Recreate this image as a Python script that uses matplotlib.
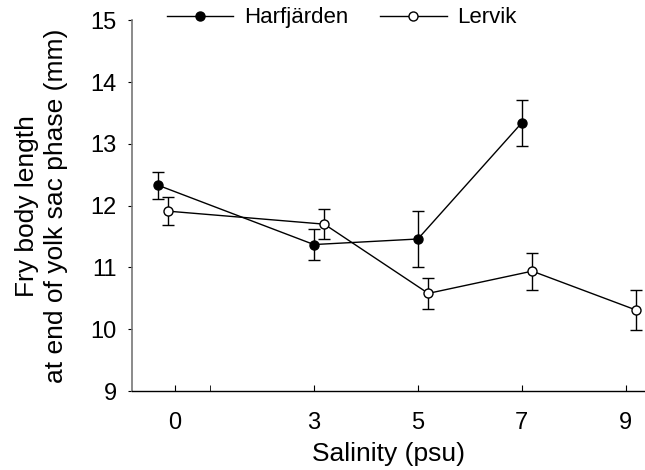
import matplotlib
matplotlib.use('Agg')
import matplotlib.pyplot as plt
from matplotlib.lines import Line2D

plt.rcParams['font.family'] = ['Liberation Sans', 'DejaVu Sans']

# salinity levels (psu); Lervik drawn slightly shifted right
sal_h = [0, 3, 5, 7]
sal_l = [0.2, 3.2, 5.2, 7.2, 9.2]

harf = [12.33, 11.37, 11.46, 13.34]
harf_err = [0.22, 0.25, 0.46, 0.37]
lerv = [11.91, 11.70, 10.58, 10.94, 10.31]
lerv_err = [0.23, 0.24, 0.25, 0.30, 0.33]

xtick_pos = [0.33, 3, 5, 7, 9]
xtick_lab = ['0', '3', '5', '7', '9']

fig = plt.figure(figsize=(6.45, 4.7), dpi=100)
ax = fig.add_axes([0.2047, 0.168, 0.7953, 0.789])

ax.errorbar(sal_h, harf, yerr=harf_err, color='black', lw=1, marker='o',
            ms=6.5, mfc='black', mec='black', capsize=4, elinewidth=1,
            capthick=1, zorder=3)
ax.errorbar(sal_l, lerv, yerr=lerv_err, color='black', lw=1, marker='o',
            ms=6.5, mfc='white', mec='black', capsize=4, elinewidth=1,
            capthick=1, zorder=3)

ax.set_xlim(-0.5, 9.37)
ax.set_ylim(9, 15)
ax.set_yticks(range(9, 16))
ax.set_xticks(xtick_pos)
ax.set_xticklabels(xtick_lab)
ax.set_xticks([1], minor=True)

for s in ['top', 'right']:
    ax.spines[s].set_visible(False)
ax.spines['left'].set_color('#777777')
ax.spines['left'].set_linewidth(1.2)
ax.spines['bottom'].set_linewidth(1)

ax.tick_params(axis='y', direction='out', length=3, labelsize=17, pad=8)
ax.tick_params(axis='x', which='major', direction='in', length=4,
               labelsize=17, pad=15)
ax.tick_params(axis='x', which='minor', direction='in', length=4)

ax.set_xlabel('Salinity (psu)', fontsize=19, labelpad=6)
ax.set_ylabel('Fry body length\nat end of yolk sac phase (mm)', fontsize=19,
              labelpad=16, linespacing=1.3)

handles = [
    Line2D([], [], color='black', lw=1, marker='o', ms=6.5, mfc='black',
           mec='black'),
    Line2D([], [], color='black', lw=1, marker='o', ms=6.5, mfc='white',
           mec='black'),
]
fig.legend(handles, ['Harfjärden', 'Lervik'], loc='center',
           bbox_to_anchor=(0.53, 0.962), ncol=2, frameon=False, fontsize=16,
           handlelength=3.0, handletextpad=0.5, columnspacing=1.4)

fig.savefig('out.png', dpi=100)
